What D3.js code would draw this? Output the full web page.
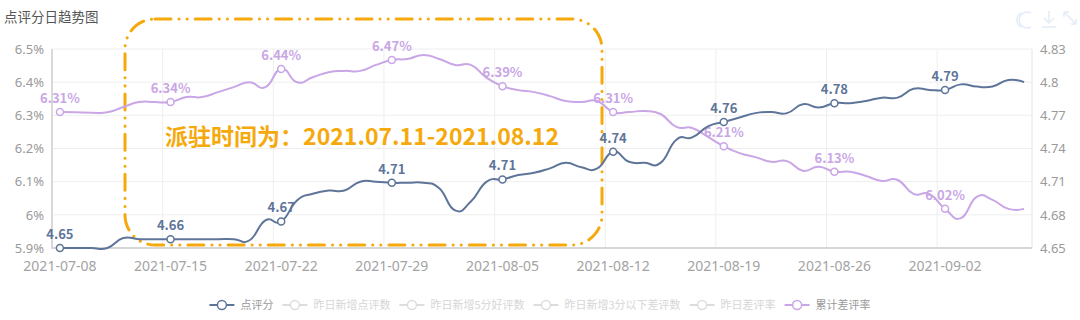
<!DOCTYPE html>
<html>
<head>
<meta charset="utf-8">
<script src="https://cdn.jsdelivr.net/npm/d3@7"></script>
<style>
  body { margin: 0; background: #fff; }
  svg { display: block; font-family: "Noto Sans CJK SC", "Noto Sans", sans-serif; }
  .grid { stroke: #eeeeee; stroke-width: 1; }
  .tick-label { fill: #9a9a9a; font-size: 13px; font-family: "Noto Sans", sans-serif; }
  .x-label { fill: #a3a3a3; font-size: 14px; font-family: "Noto Sans", sans-serif; }
</style>
</head>
<body>
<svg id="chart" width="1080" height="320"></svg>
<script>
const WIDTH = 1080;
const HEIGHT = 320;
const MARGIN = { top: 49, right: 48, bottom: 72, left: 52 };
const LABEL_EVERY = 7;

// categories: one per day, 2021-07-08 .. 2021-09-07
const startDay = new Date(2021, 6, 8);
const endDay = new Date(2021, 8, 8);
const dates = d3.timeDays(startDay, endDay).map(d3.timeFormat('%Y-%m-%d'));

// 点评分 (right axis)
const scoreValues = [
  4.65, 4.65, 4.65, 4.65, 4.659, 4.658, 4.658, 4.658, 4.658, 4.658,
  4.658, 4.658, 4.657, 4.675, 4.674, 4.693, 4.699, 4.702, 4.702, 4.71,
  4.71, 4.709, 4.709, 4.709, 4.704, 4.684, 4.692, 4.71, 4.712, 4.716,
  4.718, 4.722, 4.727, 4.723, 4.722, 4.737, 4.728, 4.727, 4.727, 4.748,
  4.75, 4.76, 4.764, 4.768, 4.772, 4.773, 4.772, 4.78, 4.777, 4.781,
  4.781, 4.783, 4.786, 4.786, 4.794, 4.793, 4.793, 4.798, 4.796, 4.796,
  4.802, 4.8,
];

// 累计差评率 in % (left axis)
const rateValues = [
  6.31, 6.309, 6.308, 6.309, 6.325, 6.34, 6.34, 6.34, 6.355, 6.355,
  6.37, 6.385, 6.4, 6.385, 6.44, 6.4, 6.415, 6.43, 6.434, 6.434,
  6.452, 6.467, 6.47, 6.482, 6.47, 6.452, 6.452, 6.413, 6.388, 6.376,
  6.37, 6.358, 6.343, 6.34, 6.343, 6.31, 6.31, 6.313, 6.304, 6.265,
  6.262, 6.235, 6.207, 6.186, 6.174, 6.16, 6.162, 6.133, 6.145, 6.13,
  6.13, 6.117, 6.102, 6.105, 6.063, 6.063, 6.018, 5.99, 6.054, 6.045,
  6.018, 6.018,
];

const rateTicks = [5.9, 6.0, 6.1, 6.2, 6.3, 6.4, 6.5];
const scoreTicks = [4.65, 4.68, 4.71, 4.74, 4.77, 4.8, 4.83];

const legendNames = ['点评分', '昨日新增点评数', '昨日新增5分好评数', '昨日新增3分以下差评数', '昨日差评率', '累计差评率'];
const legendActive = [true, false, false, false, false, true];

const SCORE_COLOR = '#5e7599';
const RATE_COLOR = '#c9a6e6';
const MUTED = '#dddddd';
const NOTE_COLOR = '#f6a90c';

const svg = d3.select('#chart');
const plotW = WIDTH - MARGIN.left - MARGIN.right;
const plotH = HEIGHT - MARGIN.top - MARGIN.bottom;
const bottom = MARGIN.top + plotH;

const x = d3.scaleBand()
  .domain(dates)
  .range([MARGIN.left, MARGIN.left + plotW]);
const cx = (d) => x(d) + x.bandwidth() / 2;

const yRate = d3.scaleLinear()
  .domain([5.9, 6.5])
  .range([bottom, MARGIN.top]);
const yScore = d3.scaleLinear()
  .domain([4.65, 4.83])
  .range([bottom, MARGIN.top]);

// title
svg.append('text')
  .attr('x', 4)
  .attr('y', 22)
  .attr('fill', '#555')
  .style('font-size', '13.5px')
  .text('点评分日趋势图');

// toolbox icons (faint)
const tools = svg.append('g')
  .attr('fill', 'none')
  .attr('stroke', '#e4ecf6')
  .attr('stroke-width', 1.5);
tools.append('path')
  .attr('d', 'M1031,13 A8,8 0 1,0 1031,27 M1021,27 A8,8 0 0,1 1021,13');
tools.append('path')
  .attr('d', 'M1049,11 L1049,23 M1044,18 L1049,23 L1054,18 M1042,27 L1056,27');
tools.append('path')
  .attr('d', 'M1064,12 L1076,24 M1064,12 L1064,17 M1064,12 L1069,12 M1076,24 L1076,19 M1076,24 L1071,24');

// horizontal split lines
svg.append('g')
  .selectAll('line')
  .data(rateTicks.slice(1))
  .enter()
    .append('line')
    .classed('grid', true)
    .attr('x1', MARGIN.left)
    .attr('x2', MARGIN.left + plotW)
    .attr('y1', (d) => yRate(d))
    .attr('y2', (d) => yRate(d));

// vertical split lines at labelled band starts
svg.append('g')
  .selectAll('line')
  .data(dates.filter((d, i) => i % LABEL_EVERY === 0 && i > 0))
  .enter()
    .append('line')
    .classed('grid', true)
    .attr('x1', (d) => x(d))
    .attr('x2', (d) => x(d))
    .attr('y1', MARGIN.top)
    .attr('y2', bottom);

// axis lines
svg.append('line')
  .attr('x1', MARGIN.left + plotW)
  .attr('x2', MARGIN.left + plotW)
  .attr('y1', MARGIN.top)
  .attr('y2', bottom)
  .attr('stroke', '#e4e4e4');
svg.append('line')
  .attr('x1', MARGIN.left)
  .attr('x2', MARGIN.left)
  .attr('y1', MARGIN.top)
  .attr('y2', bottom)
  .attr('stroke', '#d9d9d9')
  .attr('stroke-width', 2);
svg.append('line')
  .attr('x1', MARGIN.left - 1)
  .attr('x2', MARGIN.left + plotW)
  .attr('y1', bottom)
  .attr('y2', bottom)
  .attr('stroke', '#d6d6d6')
  .attr('stroke-width', 2);

// axes labels
const leftAxis = d3.axisLeft(yRate)
  .tickValues(rateTicks)
  .tickSize(0)
  .tickPadding(8)
  .tickFormat((d) => `${+d.toFixed(1)}%`);
const rightAxis = d3.axisRight(yScore)
  .tickValues(scoreTicks)
  .tickSize(0)
  .tickPadding(8)
  .tickFormat((d) => `${+d.toFixed(2)}`);
const bottomAxis = d3.axisBottom(x)
  .tickValues(dates.filter((d, i) => i % LABEL_EVERY === 0))
  .tickSize(0)
  .tickPadding(13);

[
  [leftAxis, `translate(${MARGIN.left},0)`, 'tick-label'],
  [rightAxis, `translate(${MARGIN.left + plotW},0)`, 'tick-label'],
  [bottomAxis, `translate(0,${bottom})`, 'x-label'],
].forEach(([axis, transform, cls]) => {
  const g = svg.append('g')
    .attr('transform', transform)
    .call(axis);
  g.select('.domain').remove();
  g.selectAll('text')
    .classed(cls, true)
    .attr('fill', null);
  g.attr('font-family', null).attr('font-size', null);
});

// annotation box
svg.append('rect')
  .attr('x', 125)
  .attr('y', 19)
  .attr('width', 477)
  .attr('height', 226)
  .attr('rx', 30)
  .attr('ry', 30)
  .attr('fill', 'none')
  .attr('stroke', NOTE_COLOR)
  .attr('stroke-width', 3)
  .attr('stroke-linecap', 'round')
  .attr('stroke-dasharray', '16 8 0.1 8 0.1 8');

// lines
const drawSeries = (values, y, color, fmt) => {
  const pts = values.map((v, i) => ({ x: cx(dates[i]), y: y(v), v, i }));
  const line = d3.line()
    .x((d) => d.x)
    .y((d) => d.y)
    .curve(d3.curveCardinal.tension(-0.5));
  svg.append('path')
    .datum(pts)
    .attr('d', line)
    .attr('fill', 'none')
    .attr('stroke', color)
    .attr('stroke-width', 2);
  const marked = pts.filter((d) => d.i % LABEL_EVERY === 0);
  svg.append('g')
    .selectAll('circle')
    .data(marked)
    .enter()
      .append('circle')
      .attr('cx', (d) => d.x)
      .attr('cy', (d) => d.y)
      .attr('r', 3.5)
      .attr('fill', '#fff')
      .attr('stroke', color)
      .attr('stroke-width', 1.5);
  svg.append('g')
    .selectAll('text')
    .data(marked)
    .enter()
      .append('text')
      .attr('x', (d) => d.x)
      .attr('y', (d) => d.y - 9)
      .attr('text-anchor', 'middle')
      .attr('fill', color)
      .style('font-size', '13px')
      .style('font-weight', 600)
      .text((d) => fmt(d.v));
};

drawSeries(rateValues, yRate, RATE_COLOR, (v) => `${v.toFixed(2)}%`);
drawSeries(scoreValues, yScore, SCORE_COLOR, (v) => v.toFixed(2));

// annotation text
svg.append('text')
  .attr('x', 165)
  .attr('y', 145)
  .attr('fill', NOTE_COLOR)
  .style('font-size', '23px')
  .style('font-weight', 700)
  .attr('textLength', 394)
  .attr('lengthAdjust', 'spacing')
  .text('派驻时间为：2021.07.11-2021.08.12');

// legend
const ICON_W = 25;
const TEXT_OFF = 31;
const LEGEND_GAP = 9;
const legend = svg.append('g');
const items = legendNames.map((name, i) => {
  const color = legendActive[i] ? (i === 0 ? SCORE_COLOR : RATE_COLOR) : MUTED;
  const g = legend.append('g');
  g.append('line')
    .attr('x1', 0)
    .attr('x2', ICON_W)
    .attr('stroke', color)
    .attr('stroke-width', 2);
  g.append('circle')
    .attr('cx', ICON_W / 2)
    .attr('r', 4.5)
    .attr('fill', '#fff')
    .attr('stroke', color)
    .attr('stroke-width', 1.5);
  const t = g.append('text')
    .attr('x', TEXT_OFF)
    .attr('dy', '0.35em')
    .attr('fill', legendActive[i] ? '#9a9a9a' : '#d6d6d6')
    .style('font-size', '11px')
    .text(name);
  return { g, w: TEXT_OFF + t.node().getComputedTextLength() };
});
const legendTotal = d3.sum(items, (d) => d.w) + LEGEND_GAP * (items.length - 1);
let lx = (WIDTH - legendTotal) / 2 + 0;
items.forEach((d) => {
  d.g.attr('transform', `translate(${lx},305)`);
  lx += d.w + LEGEND_GAP;
});
</script>
</body>
</html>
